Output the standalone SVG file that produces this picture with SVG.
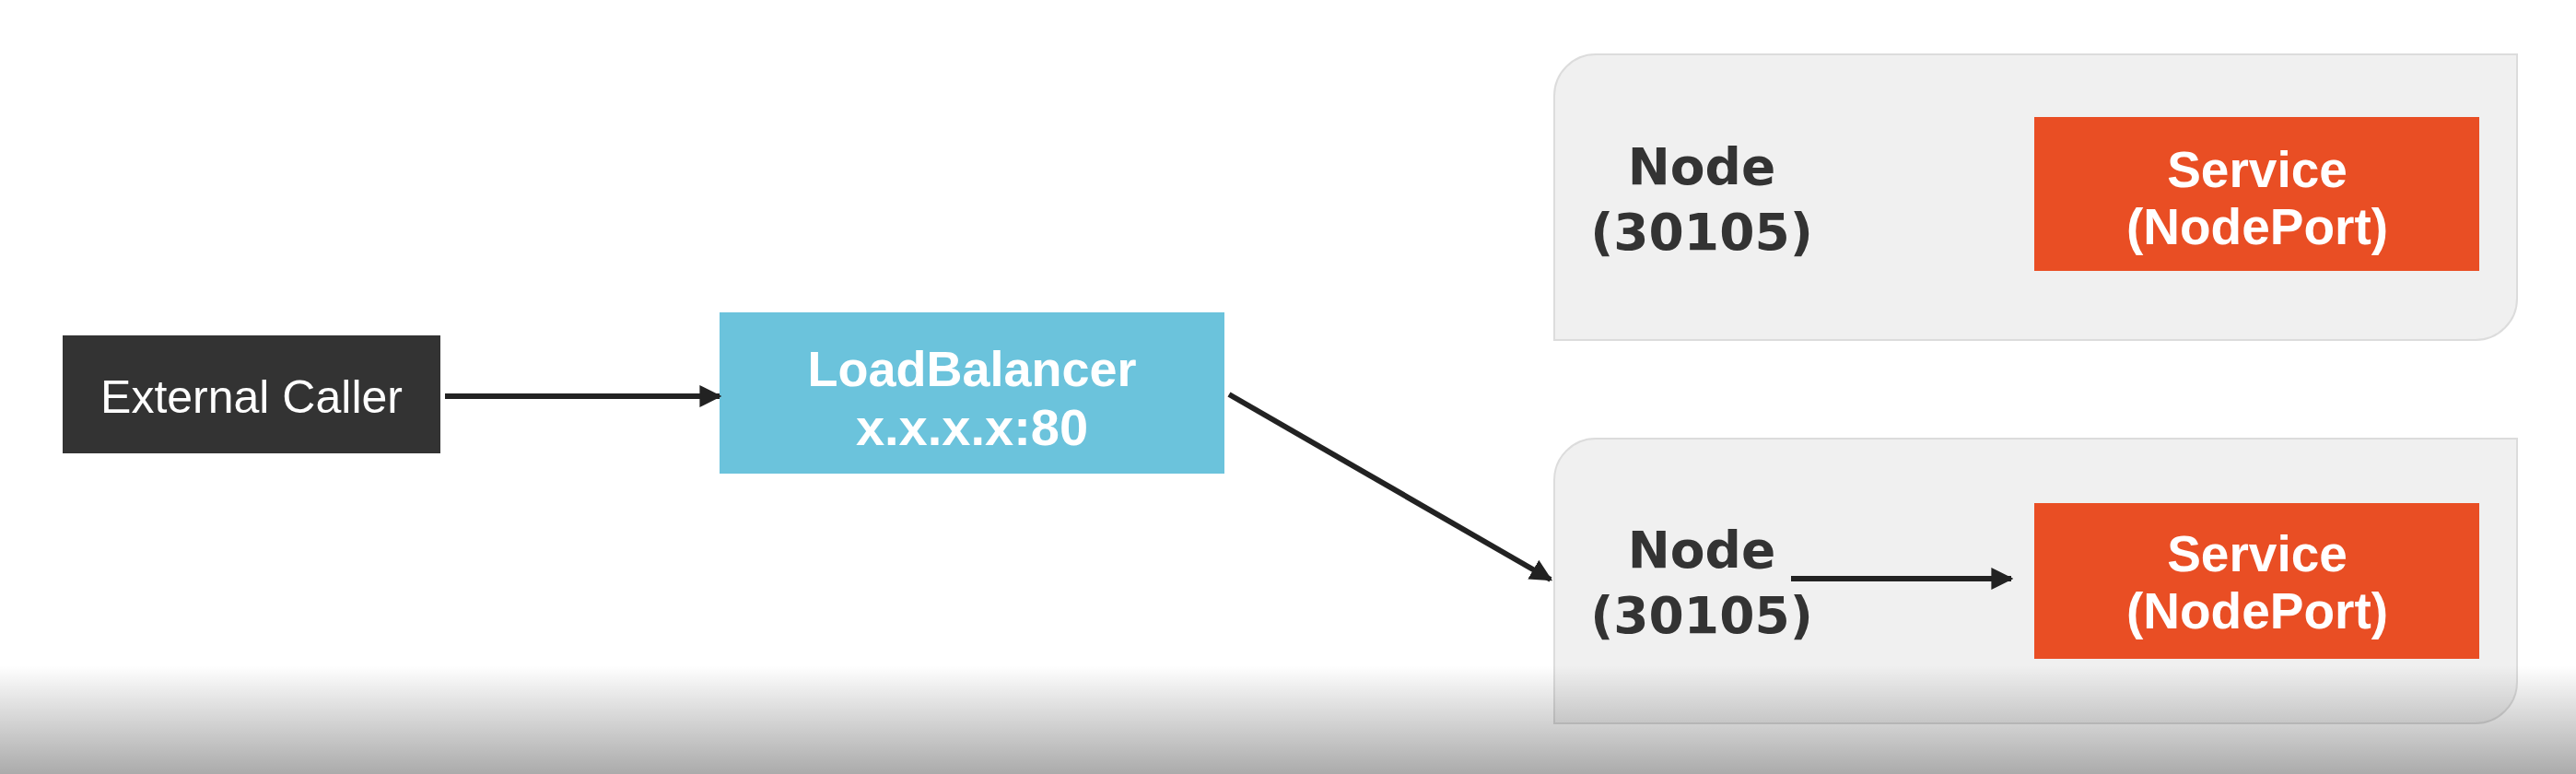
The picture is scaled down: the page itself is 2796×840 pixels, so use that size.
<svg xmlns="http://www.w3.org/2000/svg" width="2796" height="840" viewBox="0 0 2796 840">
<defs>
<style>
.lbl{font-family:"Liberation Sans",Arial,sans-serif;fill:#fff;text-anchor:middle}
.b{font-weight:bold}
.node-t{font-family:"DejaVu Sans",sans-serif;font-weight:bold;font-size:55px;fill:#333;text-anchor:middle}
.svc{fill:#E94E24}
.nodebox{fill:#F0F0F0;stroke:#DCDCDC;stroke-width:2}
.conn{stroke:#222;stroke-width:6;fill:none;marker-end:url(#ah)}
</style>
<marker id="ah" viewBox="0 0 10 10" refX="9" refY="5" markerWidth="4" markerHeight="4.4" orient="auto" markerUnits="strokeWidth">
<path d="M0,0 L10,5 L0,10 z" fill="#222"/>
</marker>
<linearGradient id="shade" x1="0" y1="0" x2="0" y2="1">
<stop offset="0" stop-color="#000" stop-opacity="0"/>
<stop offset="1" stop-color="#000" stop-opacity="0.33"/>
</linearGradient>
</defs>
<rect width="2796" height="840" fill="#fff"/>
<g id="external-caller">
<rect x="68" y="364" width="410" height="128" fill="#333"/>
<text class="lbl" x="273" y="448" font-size="50">External Caller</text>
</g>
<g id="load-balancer">
<rect x="781" y="339" width="548" height="175" fill="#6BC3DC"/>
<text class="lbl b" x="1055" y="419" font-size="54">LoadBalancer</text>
<text class="lbl b" x="1055" y="483" font-size="56">x.x.x.x:80</text>
</g>
<g id="node-top">
<path class="nodebox" d="M1732,59 H2732 V324 A45,45 0 0 1 2687,369 H1687 V104 A45,45 0 0 1 1732,59 Z"/>
<text class="node-t" x="1847" y="200">Node</text>
<text class="node-t" x="1847" y="271">(30105)</text>
</g>
<g id="service-top">
<rect class="svc" x="2208" y="127" width="483" height="167"/>
<text class="lbl b" x="2450" y="203" font-size="55">Service</text>
<text class="lbl b" x="2450" y="265" font-size="55">(NodePort)</text>
</g>
<g id="node-bottom">
<path class="nodebox" d="M1732,476 H2732 V740 A45,45 0 0 1 2687,785 H1687 V521 A45,45 0 0 1 1732,476 Z"/>
<text class="node-t" x="1847" y="616">Node</text>
<text class="node-t" x="1847" y="687">(30105)</text>
</g>
<g id="service-bottom">
<rect class="svc" x="2208" y="546" width="483" height="169"/>
<text class="lbl b" x="2450" y="620" font-size="55">Service</text>
<text class="lbl b" x="2450" y="682" font-size="55">(NodePort)</text>
</g>
<g id="connectors">
<line class="conn" x1="483" y1="430" x2="781" y2="430"/>
<line class="conn" x1="1334" y1="428" x2="1683" y2="629"/>
<line class="conn" x1="1944" y1="628" x2="2183" y2="628"/>
</g>
<rect x="0" y="722" width="2796" height="118" fill="url(#shade)"/>
</svg>
